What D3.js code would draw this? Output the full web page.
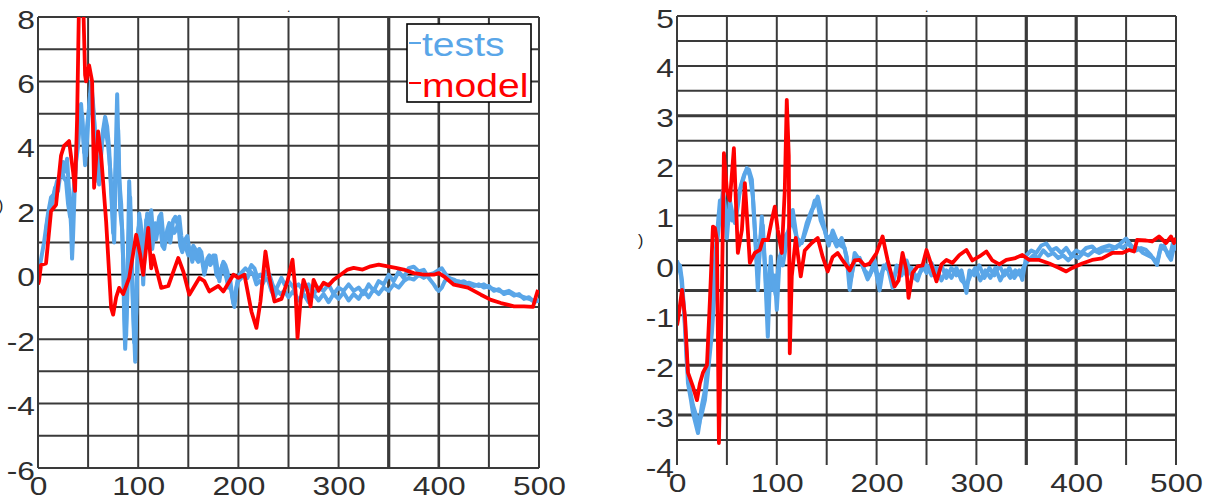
<!DOCTYPE html>
<html>
<head>
<meta charset="utf-8">
<script src="https://cdn.jsdelivr.net/npm/d3@7"></script>
<style>
  html, body { margin: 0; padding: 0; background: #fff; }
  svg { display: block; }
  text { font-family: "Liberation Sans", Arial, sans-serif; }
</style>
</head>
<body>
<svg id="chart" width="1214" height="499"></svg>
<script>
// ---- tick labels ----
const xTickLabels = [0, 100, 200, 300, 400, 500];
const leftYTickLabels = [-6, -4, -2, 0, 2, 4, 6, 8];
const rightYTickLabels = [-4, -3, -2, -1, 0, 1, 2, 3, 4, 5];
const seriesNames = ["tests", "model"];

// ---- left panel: [time, value] ----
const leftTestsA = [[2,0.3],[6,1.0],[10,1.9],[13,2.4],[16,2.5],[19,2.9],[22,3.1],[25,3.5],[27,3.2],[29,3.6],[31,2.6],[33,1.5],[34,0.5],[35,1.2],[37,3.0],[39,4.2],[41,4.6],[43,5.3],[45,4.4],[47,3.4],[49,4.6],[51,5.2],[53,6.0],[55,5.3],[57,4.3],[59,3.4],[61,2.8],[63,3.9],[65,4.5],[67,4.9],[69,4.6],[71,3.9],[73,2.6],[75,1.3],[77,3.0],[79,5.6],[81,3.0],[83,2.2],[85,0.5],[86,-1.4],[87,-2.3],[89,-0.8],[91,2.9],[93,1.2],[95,-1.0],[97,-2.7],[99,0.2],[101,1.9],[103,1.4],[105,-0.3],[107,1.2],[109,1.9],[111,1.6],[113,2.0],[115,1.2],[117,1.6],[119,1.4],[121,1.8],[123,1.9],[125,1.2],[127,1.0],[129,1.4],[131,1.6],[133,1.3],[135,1.7],[137,1.8],[139,1.6],[141,1.8],[143,1.2],[145,0.9],[147,1.1],[149,1.2],[151,0.8],[153,0.6],[155,0.9],[157,0.8],[159,0.6],[161,0.8],[163,0.7],[165,0.3],[167,0.2],[169,0.5],[171,0.6],[173,0.4],[175,0.6],[177,0.6],[179,0.2],[181,-0.2],[183,0.2],[185,0.4],[187,0.3],[189,0.1],[191,-0.3],[193,-0.5],[195,-0.9],[197,-0.6],[199,-0.2],[201,0.0],[204,0.1],[207,0.2],[210,0.1],[213,0.3],[216,0.2],[219,-0.1],[222,0.0],[225,-0.1],[228,0.1],[231,0.0],[234,-0.3],[237,-0.5],[240,-0.3],[243,-0.1],[246,-0.3],[250,-0.2],[255,-0.4],[260,-0.3],[265,-0.5],[270,-0.3],[275,-0.6],[280,-0.4],[285,-0.5],[290,-0.3],[295,-0.6],[300,-0.4],[305,-0.5],[310,-0.3],[315,-0.5],[320,-0.4],[325,-0.6],[330,-0.3],[335,-0.5],[340,-0.2],[345,-0.3],[350,0.0],[355,-0.2],[360,0.1],[365,-0.1],[370,0.2],[375,0.25],[380,0.1],[385,0.15],[390,-0.1],[395,-0.3],[398,-0.45],[400,-0.5],[403,-0.4],[406,-0.2],[410,-0.1],[415,-0.2],[420,-0.2],[425,-0.3],[430,-0.25],[435,-0.3],[440,-0.35],[445,-0.3],[450,-0.4],[455,-0.45],[460,-0.5],[465,-0.55],[470,-0.5],[475,-0.6],[480,-0.65],[485,-0.7],[490,-0.75],[495,-0.8],[500,-0.8]];

const leftTestsB = [[8,1.4],[11,2.0],[14,2.2],[17,2.7],[20,2.6],[23,3.3],[26,3.0],[28,2.9],[30,2.2],[32,1.8],[35,2.4],[38,3.5],[40,4.0],[42,4.8],[44,5.0],[46,3.8],[48,3.7],[50,4.7],[52,5.6],[54,5.5],[56,4.8],[58,3.9],[60,2.9],[62,3.3],[64,4.1],[66,4.6],[68,4.4],[70,4.0],[72,3.3],[74,2.2],[76,1.0],[78,3.8],[80,4.5],[82,2.0],[84,1.4],[86,-0.6],[88,-1.9],[90,0.8],[92,2.4],[94,-0.3],[96,-2.1],[98,-1.2],[100,1.4],[102,1.7],[104,0.4],[106,0.6],[108,1.7],[110,1.3],[112,1.8],[114,0.8],[116,1.3],[118,1.1],[120,1.5],[122,1.6],[124,0.9],[126,0.8],[128,1.2],[130,1.3],[132,1.0],[134,1.5],[136,1.3],[138,1.4],[140,1.6],[142,0.9],[144,0.7],[146,1.0],[148,0.8],[150,0.6],[152,0.7],[154,0.4],[156,0.7],[158,0.5],[160,0.4],[162,0.6],[164,0.4],[166,0.0],[168,0.3],[170,0.5],[172,0.3],[174,0.4],[176,0.5],[178,0.0],[180,-0.1],[182,0.0],[184,0.3],[186,0.1],[188,-0.1],[190,-0.4],[192,-0.2],[194,-0.7],[196,-1.0],[198,-0.4],[200,-0.2],[203,-0.1],[206,0.0],[209,-0.1],[212,0.1],[215,0.0],[218,-0.3],[221,-0.2],[224,-0.3],[227,-0.1],[230,-0.2],[233,-0.5],[236,-0.7],[239,-0.5],[242,-0.6],[246,-0.5],[250,-0.7],[255,-0.5],[260,-0.8],[265,-0.6],[270,-0.85],[275,-0.6],[280,-0.8],[285,-0.6],[290,-0.85],[295,-0.6],[300,-0.75],[305,-0.55],[310,-0.8],[315,-0.6],[320,-0.75],[325,-0.5],[330,-0.7],[335,-0.45],[340,-0.6],[345,-0.4],[350,-0.5],[355,-0.3],[360,-0.4],[365,-0.2],[370,-0.1],[375,-0.15],[380,0.0],[385,-0.1],[390,0.0],[395,0.05],[400,0.15],[403,0.2],[406,0.05],[410,-0.1],[415,-0.15],[420,-0.25],[425,-0.2],[430,-0.3],[435,-0.35],[440,-0.3],[445,-0.4],[450,-0.35],[455,-0.5],[460,-0.45],[465,-0.6],[470,-0.55],[475,-0.65],[480,-0.6],[485,-0.75],[490,-0.7],[495,-0.85],[500,-0.8]];

const leftModel = [[0,-0.3],[1,-0.2],[3,0.3],[8,0.35],[13,1.97],[18,2.17],[23,3.7],[26,4.0],[31,4.15],[35,3.2],[37,2.6],[39,4.8],[41,8.6],[43,8.7],[45,8.6],[47,6.2],[48,6.0],[51,6.5],[54,6.0],[56,2.7],[60,4.45],[63,3.7],[68,1.65],[73,-1.03],[75,-1.24],[78,-0.7],[81,-0.41],[85,-0.6],[91,-0.1],[98,1.24],[102,0.62],[105,0.0],[110,1.45],[113,0.2],[115,0.6],[118,0.2],[123,-0.41],[130,-0.35],[140,0.52],[145,0.1],[151,-0.62],[161,-0.1],[166,-0.2],[171,-0.52],[180,-0.35],[185,-0.52],[195,0.0],[200,-0.1],[206,0.0],[213,-1.14],[218,-1.65],[222,-0.83],[227,0.72],[231,-0.1],[236,-0.83],[243,-0.75],[249,-0.2],[254,0.47],[257,-0.5],[259,-1.96],[262,-0.8],[265,-0.16],[269,-0.5],[272,-0.98],[275,-0.16],[280,-0.5],[285,-0.25],[290,-0.33],[295,-0.16],[302,0],[309,0.16],[315,0.21],[324,0.16],[332,0.26],[340,0.31],[349,0.26],[357,0.21],[365,0.16],[375,0.05],[385,0],[395,0],[400,0.05],[405,-0.05],[415,-0.31],[429,-0.4],[442,-0.62],[452,-0.78],[462,-0.88],[475,-0.98],[485,-0.98],[494,-1.0],[497,-0.67],[499,-0.47]];

// ---- right panel: [time, value] ----
const rightTestsA = [[0,0.05],[3,0.0],[5,-0.3],[8,-1.16],[11,-2.36],[14,-2.7],[16,-2.96],[19,-3.2],[21,-3.36],[23,-3.1],[25,-2.96],[28,-2.7],[31,-2.15],[35,-1.35],[38,-0.4],[40,0.4],[42,0.8],[44,1.1],[46,1.5],[48,1.2],[50,0.55],[53,1.3],[56,1.0],[58,0.85],[61,1.2],[63,1.5],[66,1.7],[68,1.85],[70,1.9],[72,1.92],[75,1.72],[78,0.71],[81,-0.49],[83,0.38],[85,0.98],[88,0.0],[91,-1.43],[94,0.18],[96,-0.49],[98,-0.2],[100,-0.89],[103,0.18],[106,0.0],[110,0.5],[113,0.85],[116,1.11],[120,0.55],[125,0.45],[130,0.85],[135,1.11],[138,1.2],[141,1.38],[145,1.0],[150,0.55],[155,0.6],[160,0.38],[165,0.55],[170,0.18],[173,-0.49],[178,0.25],[185,0.05],[191,-0.28],[198,0.0],[203,-0.5],[207,0.0],[212,-0.1],[216,-0.45],[220,0.0],[225,-0.2],[230,0.1],[235,-0.2],[241,-0.3],[246,0.0],[250,-0.15],[255,0.05],[260,-0.2],[265,0.0],[270,-0.25],[275,-0.05],[280,-0.2],[285,-0.1],[290,-0.55],[293,-0.1],[298,-0.2],[303,0.0],[308,-0.25],[313,-0.05],[318,-0.2],[323,0.0],[328,-0.2],[333,-0.05],[338,-0.25],[343,-0.1],[346,-0.29],[350,0.2],[355,0.3],[360,0.25],[365,0.4],[370,0.44],[375,0.3],[380,0.35],[385,0.25],[390,0.35],[395,0.2],[400,0.3],[405,0.25],[410,0.35],[416,0.38],[420,0.3],[425,0.35],[433,0.4],[440,0.35],[445,0.45],[450,0.54],[455,0.4],[460,0.3],[465,0.35],[470,0.31],[475,0.2],[481,0.01],[484,0.3],[488,0.4],[492,0.2],[495,0.11],[498,0.38],[500,0.3]];

const rightTestsB = [[0,0.1],[4,-0.2],[7,-0.9],[10,-2.0],[13,-2.5],[16,-2.8],[19,-3.0],[22,-3.2],[25,-2.8],[28,-2.5],[31,-1.9],[34,-1.2],[37,-0.2],[40,0.6],[43,1.3],[46,1.2],[49,0.8],[52,1.1],[55,0.9],[58,1.0],[61,1.3],[64,1.6],[67,1.8],[70,1.95],[73,1.8],[76,1.4],[79,0.4],[81,-0.2],[84,0.6],[86,0.8],[89,-0.3],[91,-1.0],[93,0.0],[96,-0.3],[99,-0.6],[102,0.1],[105,0.3],[109,0.6],[112,0.7],[115,0.95],[118,0.7],[122,0.4],[126,0.5],[130,0.75],[134,1.0],[138,1.3],[141,1.25],[144,0.9],[148,0.7],[152,0.4],[156,0.7],[160,0.5],[164,0.4],[168,0.35],[171,0.0],[174,-0.3],[178,0.1],[183,0.15],[188,-0.1],[193,-0.2],[198,0.1],[202,-0.3],[206,-0.1],[211,0.05],[216,-0.3],[220,-0.1],[225,0.0],[230,-0.2],[235,-0.05],[240,-0.25],[245,-0.1],[250,0.0],[255,-0.2],[260,-0.05],[265,-0.3],[270,-0.1],[275,-0.25],[280,-0.05],[285,-0.3],[290,-0.4],[294,-0.2],[299,-0.05],[304,-0.3],[309,-0.1],[314,-0.25],[319,-0.05],[324,-0.3],[329,-0.1],[334,-0.25],[339,-0.1],[344,-0.2],[348,0.0],[352,0.1],[357,0.2],[362,0.15],[367,0.3],[372,0.2],[377,0.25],[382,0.15],[387,0.2],[392,0.1],[397,0.2],[402,0.15],[407,0.25],[412,0.2],[418,0.3],[423,0.25],[428,0.3],[435,0.3],[442,0.4],[447,0.35],[452,0.45],[457,0.3],[462,0.35],[467,0.25],[472,0.2],[477,0.15],[481,0.05],[485,0.4],[490,0.3],[494,0.2],[497,0.45],[500,0.35]];

const rightModel = [[0,-1.2],[1,-1.09],[5,-0.49],[8,-1.03],[11,-2.15],[16,-2.43],[20,-2.7],[23,-2.36],[26,-2.15],[30,-2.0],[33,-0.69],[36,0.78],[38,0.75],[40,0.51],[42,-3.56],[45,-0.49],[47,2.25],[50,1.51],[53,1.3],[57,2.35],[61,0.25],[65,0.71],[68,1.65],[73,0.05],[78,0.25],[83,0.31],[86,0.51],[91,0.51],[95,0.91],[98,1.18],[101,0.71],[105,0.25],[108,1.51],[110,3.32],[112,2.2],[113,-1.76],[115,-0.22],[119,0.55],[124,-0.22],[128,0.3],[135,0.45],[141,0.55],[146,0.17],[151,-0.12],[156,0.17],[161,0.25],[166,0.1],[173,-0.1],[178,0.1],[183,0.11],[188,0.0],[193,0.04],[200,0.25],[206,0.58],[211,0.11],[218,-0.42],[222,-0.3],[226,0.25],[230,-0.1],[232,-0.65],[236,-0.15],[241,-0.02],[246,0.0],[250,0.31],[255,0.0],[260,-0.32],[265,0.02],[270,0.11],[276,0.05],[283,0.21],[290,0.31],[296,0.1],[303,0.18],[310,0.28],[316,0.1],[323,0.02],[330,0.11],[338,0.14],[346,0.21],[353,0.11],[363,0.11],[373,0.04],[383,-0.05],[390,-0.12],[396,-0.05],[406,0.04],[416,0.11],[426,0.14],[436,0.25],[446,0.25],[453,0.31],[458,0.28],[461,0.51],[470,0.5],[476,0.48],[483,0.58],[490,0.45],[495,0.58],[498,0.45],[500,0.55]];

// ---- styling ----
const TEST_COLOR = "#5aa6e8";
const MODEL_COLOR = "#ff0000";
const GRID_COLOR = "#3a3a3a";
const TEXT_COLOR = "#2e2e2e";
const STRETCH = 1.27;   // wide tick lettering

const panels = [
  { key: "L", left: 38, right: 539, top: 17, bottom: 468,
    yDomain: [-6, 8], hStep: 1, yTicks: leftYTickLabels,
    heavyV: [350], midV: [400], heavyH: [], zeroDark: true, bottomLine: true,
    tests: [leftTestsA, leftTestsB], model: leftModel, legend: true },
  { key: "R", left: 677, right: 1176, top: 16, bottom: 465,
    yDomain: [-4, 5], hStep: 0.5, yTicks: rightYTickLabels,
    heavyV: [350, 400], midV: [], heavyH: [3, 0.5, -0.5, -1.5, -2, -3], zeroDark: true, bottomLine: false,
    tests: [rightTestsA, rightTestsB], model: rightModel, legend: false }
];

const svg = d3.select("#chart");
const defs = svg.append("defs");
const plainNumber = d => String(d);

panels.forEach(p => {
  const x = d3.scaleLinear().domain([0, 500]).range([p.left, p.right]);
  const y = d3.scaleLinear().domain(p.yDomain).range([p.bottom, p.top]);
  const g = svg.append("g").attr("class", "panel-" + p.key);

  defs.append("clipPath").attr("id", "clip-" + p.key)
    .append("rect")
    .attr("x", p.left).attr("y", p.top)
    .attr("width", p.right - p.left).attr("height", p.bottom - p.top);

  // horizontal grid
  const hVals = d3.range(p.yDomain[0], p.yDomain[1] + 1e-9, p.hStep)
    .filter(v => p.bottomLine || v > p.yDomain[0] + 1e-9);
  g.append("g").selectAll("line").data(hVals).join("line")
    .attr("x1", p.left).attr("x2", p.right)
    .attr("y1", d => y(d)).attr("y2", d => y(d))
    .attr("stroke", d => (Math.abs(d) < 1e-9 && p.zeroDark) ? "#000" : GRID_COLOR)
    .attr("stroke-width", d => p.heavyH.some(h => Math.abs(h - d) < 1e-9) ? 3 :
                              (Math.abs(d) < 1e-9 ? 1.8 : 2));

  // vertical grid
  const vVals = d3.range(0, 501, 50);
  g.append("g").selectAll("line").data(vVals).join("line")
    .attr("x1", d => x(d)).attr("x2", d => x(d))
    .attr("y1", p.top).attr("y2", p.bottom)
    .attr("stroke", GRID_COLOR)
    .attr("stroke-width", d => p.heavyV.includes(d) ? 3.2 : (p.midV.includes(d) ? 2.6 : 2));

  // series
  const line = d3.line().x(d => x(d[0])).y(d => y(d[1]));
  const plot = g.append("g").attr("clip-path", "url(#clip-" + p.key + ")");
  p.tests.forEach(s => {
    plot.append("path").datum(s)
      .attr("fill", "none").attr("stroke", TEST_COLOR)
      .attr("stroke-width", 4).attr("stroke-linejoin", "round")
      .attr("d", line);
  });
  plot.append("path").datum(p.model)
    .attr("fill", "none").attr("stroke", MODEL_COLOR)
    .attr("stroke-width", 3.8).attr("stroke-linejoin", "round")
    .attr("d", line);

  // tick labels
  const yAxis = g.append("g").attr("transform", `translate(${p.left},0)`)
    .call(d3.axisLeft(y).tickValues(p.yTicks).tickSize(0).tickPadding(0).tickFormat(plainNumber));
  yAxis.select(".domain").remove();
  yAxis.selectAll("text")
    .attr("x", 0).attr("dy", "0.36em")
    .attr("transform", `translate(-3,2) scale(${STRETCH},1)`)
    .attr("fill", TEXT_COLOR).style("font-size", "25px")
    .style("font-family", '"Liberation Sans", Arial, sans-serif');

  const xAxis = g.append("g").attr("transform", `translate(0,${p.bottom})`)
    .call(d3.axisBottom(x).tickValues(xTickLabels).tickSize(0).tickPadding(0).tickFormat(plainNumber));
  xAxis.select(".domain").remove();
  xAxis.selectAll("text")
    .attr("y", 0).attr("dy", 0)
    .attr("transform", `translate(0,27) scale(${STRETCH},1)`)
    .attr("fill", TEXT_COLOR).style("font-size", "25px")
    .style("font-family", '"Liberation Sans", Arial, sans-serif');

  // left axis line
  g.append("line")
    .attr("x1", p.left).attr("x2", p.left).attr("y1", p.top).attr("y2", p.bottom)
    .attr("stroke", GRID_COLOR).attr("stroke-width", 2);

  if (p.legend) {
    const lg = g.append("g").attr("class", "legend");
    lg.append("rect")
      .attr("x", 407).attr("y", 24).attr("width", 124).attr("height", 78)
      .attr("fill", "#fff").attr("stroke", "#000").attr("stroke-width", 1.6);
    const colors = [TEST_COLOR, MODEL_COLOR];
    seriesNames.forEach((name, i) => {
      const cy = 43 + i * 40;
      lg.append("line")
        .attr("x1", 409).attr("x2", 421).attr("y1", cy).attr("y2", cy)
        .attr("stroke", colors[i]).attr("stroke-width", 2);
      lg.append("text")
        .attr("transform", `translate(422,${56 + i * 41}) scale(1.15,1)`)
        .attr("fill", colors[i]).style("font-size", "34px")
        .text(name);
    });
  }
});

// stray marks at the panel edges
svg.append("text").attr("x", 287).attr("y", 12).attr("fill", "#222").style("font-size", "12px").text(".");
svg.append("text").attr("x", 925).attr("y", 12).attr("fill", "#222").style("font-size", "12px").text(".");
svg.append("text").attr("x", -2).attr("y", 211).attr("fill", "#222").style("font-size", "16px").text(")");
svg.append("text").attr("x", 638).attr("y", 246).attr("fill", "#222").style("font-size", "16px").text(")");
</script>
</body>
</html>
